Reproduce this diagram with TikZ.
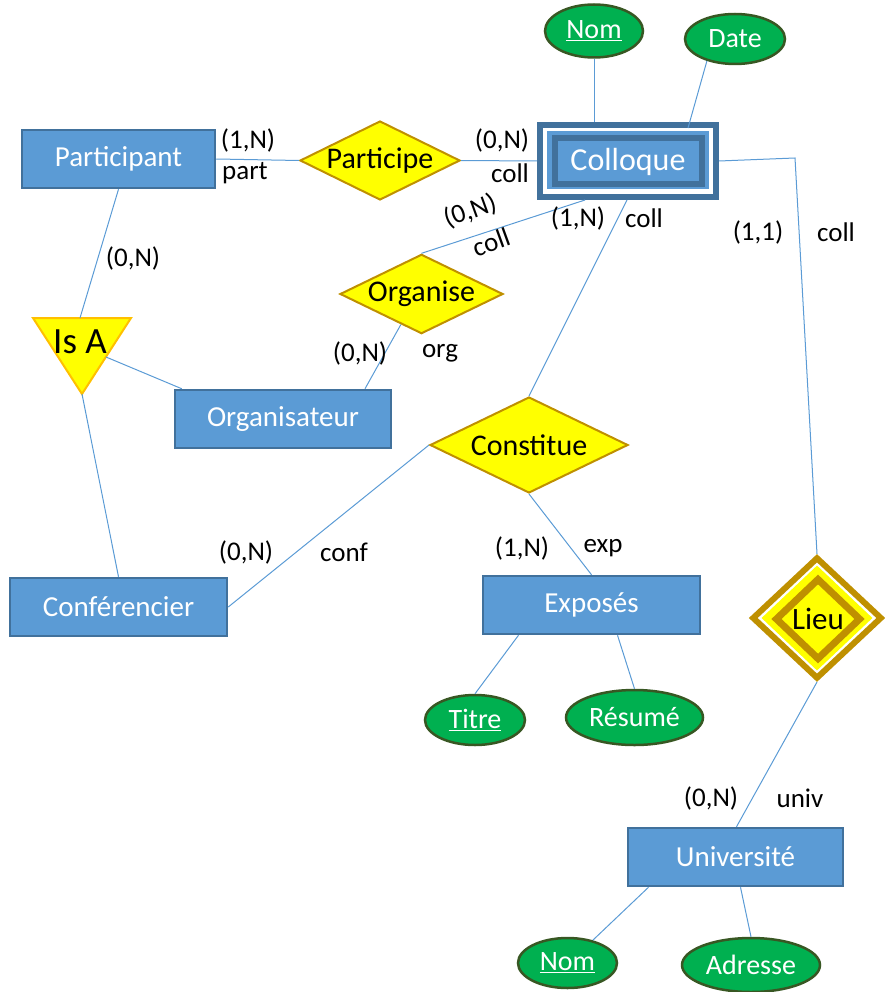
\documentclass[tikz,border=0pt]{standalone}
\usepackage{fontspec}
\setmainfont{Carlito}
\usetikzlibrary{shapes.geometric,calc}
\definecolor{boxfill}{HTML}{5B9BD5}
\definecolor{boxdraw}{HTML}{41719C}
\definecolor{ellfill}{HTML}{00B050}
\definecolor{elldraw}{HTML}{385723}
\definecolor{diafill}{HTML}{FFFF00}
\definecolor{diadraw}{HTML}{BF9000}
\definecolor{isadraw}{HTML}{FFC000}
\definecolor{linecol}{HTML}{5B9BD5}
\begin{document}
\begin{tikzpicture}[x=1pt,y=-1pt,
 entity/.style={rectangle, fill=boxfill, draw=boxdraw, line width=2.5pt, minimum height=58pt, inner sep=0pt, text=white, font=\fontsize{29}{34}\selectfont},
 attr/.style={ellipse, fill=ellfill, draw=elldraw, line width=2.5pt, inner sep=0pt, text=white, font=\fontsize{28}{33}\selectfont},
 rel/.style={diamond, fill=diafill, draw=diadraw, line width=2pt, inner sep=0pt, aspect=2, font=\fontsize{30}{35}\selectfont},
 card/.style={font=\fontsize{27}{32}\selectfont, inner sep=0pt},
 link/.style={draw=linecol, line width=1pt}]
\useasboundingbox (0,0) rectangle (885,992);

% entities
\node[entity, minimum width=193pt] (participant) at (118.5,159) {Participant};
\node[entity, minimum width=216pt] (organisateur) at (283,419) {Organisateur};
\node[entity, minimum width=217pt] (conferencier) at (118.5,607) {Conférencier};
\node[entity, minimum width=217pt] (exposes) at (591.5,605) {Exposés};
\node[entity, minimum width=215pt] (universite) at (735.5,857) {Université};

% Colloque (weak/double entity)
\node[rectangle, draw=boxdraw, fill=white, line width=6pt, minimum width=176pt, minimum height=72pt, inner sep=0pt] (colloque) at (628,161) {};
\node[rectangle, fill=boxfill, minimum width=162pt, minimum height=58pt, inner sep=0pt] (collmid) at (628,160) {};
\node[rectangle, draw=boxdraw, fill=boxfill, line width=6pt, minimum width=147pt, minimum height=46pt, inner sep=0pt, text=white, font=\fontsize{32}{38}\selectfont] (collin) at (628,161.5) {Colloque};

% attributes
\node[attr, minimum width=98pt, minimum height=53pt] (nom1) at (594,31) {\underline{Nom}};
\node[attr, minimum width=100pt, minimum height=50pt] (date) at (735,39) {Date};
\node[attr, minimum width=100pt, minimum height=50pt] (titre) at (475,720) {\underline{Titre}};
\node[attr, minimum width=137pt, minimum height=55pt] (resume) at (634.5,717.5) {Résumé};
\node[attr, minimum width=99pt, minimum height=50pt] (nom2) at (567.5,963) {\underline{Nom}};
\node[attr, minimum width=138pt, minimum height=54pt] (adresse) at (751,965) {Adresse};

% relationships
\node[rel, minimum width=160pt, minimum height=79pt] (participe) at (380,160.5) {Participe};
\node[rel, minimum width=163pt, minimum height=78pt] (organise) at (421.5,294) {Organise};
\node[rel, minimum width=198pt, minimum height=96pt, aspect=2.06] (constitue) at (529,445) {Constitue};

% Lieu (identifying relationship)
\node[diamond, draw=diadraw, fill=white, line width=6pt, minimum width=130pt, minimum height=122pt, inner sep=0pt] (lieu) at (817,618) {};
\node[diamond, fill=diafill, minimum width=111pt, minimum height=105pt, inner sep=0pt] (lieumid) at (817,618) {};
\node[diamond, draw=diadraw, fill=diafill, line width=7pt, minimum width=86pt, minimum height=82pt, inner sep=0pt, font=\fontsize{31}{36}\selectfont] (lieuin) at (818,619) {Lieu};

% Is A
\coordinate (isatl) at (33,318);
\coordinate (isatr) at (131,318);
\coordinate (isabot) at (82,394);
\draw[fill=diafill, draw=isadraw, line width=2pt, line join=miter] (isatl) -- (isatr) -- (isabot) -- cycle;
\node[inner sep=0pt, font=\fontsize{37}{42}\selectfont] (isa) at (80,342) {Is A};
\coordinate (isatop) at (80,318);
\coordinate (isaright) at (106,357);

% connectors
\coordinate (bend) at (795,158);
\draw[link] (participant.east) -- (participe.west);
\draw[link] (participe.east) -- (colloque.west);
\draw[link] (nom1.south) -- ([xshift=-34pt]colloque.north);
\draw[link] (date.218) -- ([xshift=60pt,yshift=-6pt]colloque.north);
\draw[link] (colloque.east) -- (bend) -- (lieu.north);
\draw[link] ([xshift=-43pt]colloque.south) -- (organise.north);
\draw[link] ([xshift=-1pt]colloque.south) -- (constitue.north);
\draw[link] ($(organise.south)!0.25!(organise.west)$) -- ([xshift=82pt]organisateur.north);
\draw[link] (participant.south) -- (isatop);
\draw[link] (isaright) -- ([xshift=8pt]organisateur.north west);
\draw[link] (isabot) -- (conferencier.north);
\draw[link] (constitue.west) -- (conferencier.east);
\draw[link] (constitue.south) -- (exposes.north);
\draw[link] ([xshift=-73pt]exposes.south) -- (titre.north);
\draw[link] ([xshift=26pt]exposes.south) -- (resume.north);
\draw[link] (lieu.south) -- ([xshift=1pt]universite.north);
\draw[link] ([xshift=-87pt]universite.south) -- (nom2.42);
\draw[link] ([xshift=5pt]universite.south) -- (adresse.north);

% cardinality labels
\node[card] (c1) at (248,140) {(1,N)};
\node[card] (r1) at (245,173) {part};
\node[card] (c2) at (502,140) {(0,N)};
\node[card] (r2) at (510,173) {coll};
\node[card, rotate=20] (c3) at (470,211) {(0,N)};
\node[card, rotate=20] (r3) at (491,242) {coll};
\node[card] (c4) at (578,218) {(1,N)};
\node[card] (r4) at (644,218) {coll};
\node[card] (c5) at (758,232) {(1,1)};
\node[card] (r5) at (836,232) {coll};
\node[card] (c6) at (133,258) {(0,N)};
\node[card] (c7) at (360,353) {(0,N)};
\node[card] (r7) at (440,353) {org};
\node[card] (c8) at (246,552) {(0,N)};
\node[card] (r8) at (344,552) {conf};
\node[card] (c9) at (522,548) {(1,N)};
\node[card] (r9) at (603,548) {exp};
\node[card] (c10) at (711,798) {(0,N)};
\node[card] (r10) at (800,798) {univ};
\end{tikzpicture}
\end{document}
